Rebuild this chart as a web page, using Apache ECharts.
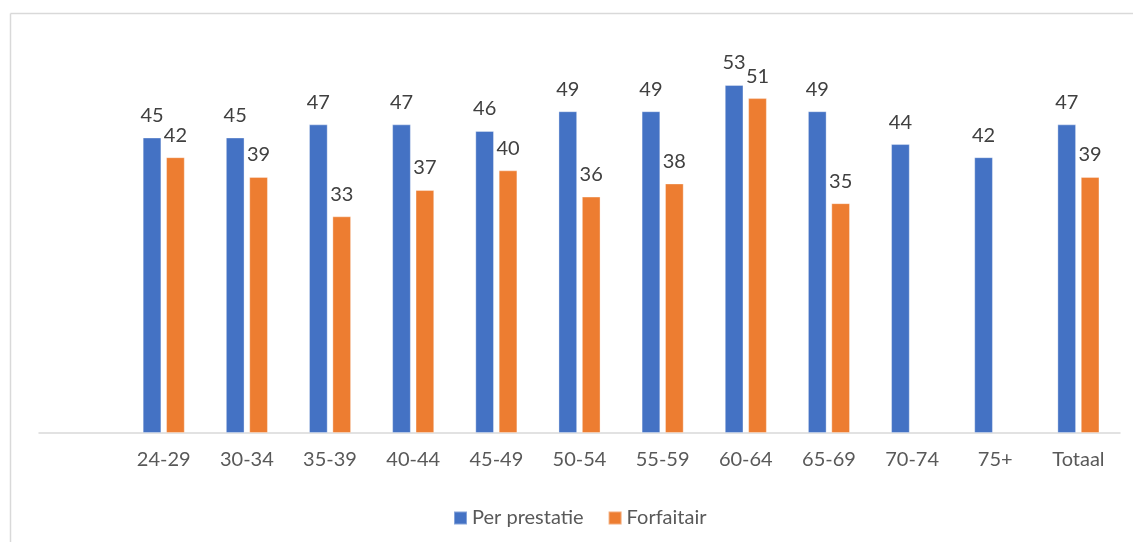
<!DOCTYPE html>
<html>
<head>
<meta charset="utf-8">
<script src="https://cdn.jsdelivr.net/npm/echarts@6/dist/echarts.min.js"></script>
<style>
  html, body { margin: 0; padding: 0; background: #ffffff; }
  #chart { width: 1133px; height: 542px; }
</style>
</head>
<body>
<div id="chart"></div>
<script>
// Age groups (the leading blank slot keeps the empty first column of the axis)
const categories = ['', '24-29', '30-34', '35-39', '40-44', '45-49', '50-54', '55-59', '60-64', '65-69', '70-74', '75+', 'Totaal'];
const perPrestatie = [null, 45, 45, 47, 47, 46, 49, 49, 53, 49, 44, 42, 47];
const forfaitair   = [null, 42, 39, 33, 37, 40, 36, 38, 51, 35, null, null, 39];
const seriesNames = ['Per prestatie', 'Forfaitair'];

const FONT = 'Lato, "Open Sans", sans-serif';

const valueLabel = {
  show: true,
  position: 'top',
  distance: 12,
  color: '#404040',
  fontSize: 20,
  fontFamily: FONT
};

const chart = echarts.init(document.getElementById('chart'), null, { renderer: 'canvas' });
chart.setOption({
  backgroundColor: '#ffffff',
  animation: false,
  graphic: [
    { type: 'line', silent: true, shape: { x1: 10.5, y1: 13.5, x2: 1133, y2: 13.5 }, style: { stroke: '#d9d9d9', lineWidth: 1.5 } },
    { type: 'line', silent: true, shape: { x1: 10.5, y1: 13.5, x2: 10.5, y2: 542 }, style: { stroke: '#d9d9d9', lineWidth: 1.5 } }
  ],
  grid: { left: 39, right: 13, top: 39, bottom: 109, containLabel: false },
  legend: {
    data: seriesNames,
    left: 448,
    top: 503,
    itemWidth: 13,
    itemHeight: 13,
    itemGap: 24,
    icon: 'rect',
    textStyle: { color: '#595959', fontSize: 20, fontFamily: FONT }
  },
  xAxis: {
    type: 'category',
    data: categories,
    axisLine: { show: true, lineStyle: { color: '#d9d9d9', width: 1.5 } },
    axisTick: { show: false },
    axisLabel: { color: '#595959', fontSize: 20, fontFamily: FONT, margin: 17, interval: 0 }
  },
  yAxis: {
    type: 'value',
    min: 0,
    max: 60,
    interval: 10,
    show: false,
    splitLine: { show: false }
  },
  series: [
    {
      name: seriesNames[0],
      type: 'bar',
      data: perPrestatie,
      barWidth: '22.5%',
      barGap: '25%',
      itemStyle: { color: '#4472c4', borderColor: 'rgba(255,255,255,0.35)', borderWidth: 1 },
      label: valueLabel
    },
    {
      name: seriesNames[1],
      type: 'bar',
      data: forfaitair,
      barWidth: '22.5%',
      barGap: '25%',
      itemStyle: { color: '#ed7d31', borderColor: 'rgba(255,255,255,0.35)', borderWidth: 1 },
      label: valueLabel
    }
  ]
});
</script>
</body>
</html>
